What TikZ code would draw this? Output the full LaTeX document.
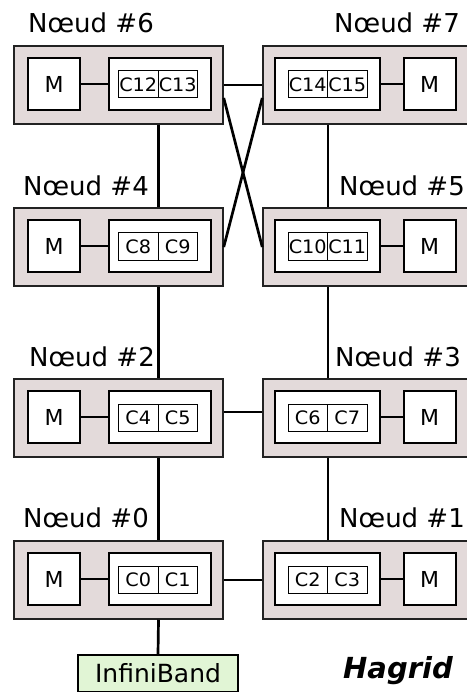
\documentclass[tikz,border=0pt]{standalone}
\usepackage{fontspec}
\setmainfont{DejaVu Sans}
\newfontfamily\chipfont{DejaVu Sans}[FakeStretch=1.04]
\definecolor{boxfill}{RGB}{227,218,218}
\definecolor{ibfill}{RGB}{225,245,213}
\definecolor{boxline}{RGB}{34,34,34}
\tikzset{
  outerbox/.style={draw=boxline,line width=1.5pt,fill=boxfill,inner sep=0pt,minimum height=78pt},
  membox/.style={draw=black,line width=2pt,fill=white,inner sep=0pt,minimum width=52pt,minimum height=52pt,font=\fontsize{22}{22}\selectfont},
  widebox/.style={draw=black,line width=2pt,fill=white,inner sep=0pt,minimum width=104pt,minimum height=52pt},
  chipbox/.style={draw=black,line width=1pt,fill=white,inner sep=0pt,minimum width=39.5pt,minimum height=27pt,font=\chipfont\fontsize{18.5}{18.5}\selectfont},
  link/.style={draw=black,line width=2.7pt},
  nodelabel/.style={anchor=base west,inner sep=0pt,font=\fontsize{26}{26}\selectfont},
  ibbox/.style={draw=black,line width=1.5pt,fill=ibfill,inner sep=0pt,minimum width=160pt,minimum height=37pt,font=\fontsize{25}{25}\selectfont},
}
\newcommand{\leftnuma}[4]{% name, top y, chip A, chip B
  \node[outerbox,minimum width=209pt] (#1) at (118.5,#2+39) {};
  \node[membox] (m#1) at (54,#2+38) {M};
  \node[widebox,minimum width=102pt] (w#1) at (160,#2+38) {};
  \node[chipbox] (a#1) at (138.25,#2+38.5) {#3};
  \node[chipbox] (b#1) at (177.75,#2+38.5) {#4};
  \draw[link] (m#1.east) -- (w#1.west);
}
\newcommand{\rightnuma}[4]{% name, top y, chip A, chip B
  \node[outerbox,minimum width=212pt] (#1) at (369,#2+39) {};
  \node[membox] (m#1) at (429.5,#2+38) {M};
  \node[widebox,minimum width=105pt] (w#1) at (327.5,#2+38) {};
  \node[chipbox] (a#1) at (307.75,#2+38.5) {#3};
  \node[chipbox] (b#1) at (347.25,#2+38.5) {#4};
  \draw[link] (w#1.east) -- (m#1.west);
}
\begin{document}
\begin{tikzpicture}[x=1pt,y=-1pt]
\useasboundingbox (0,0) rectangle (466,692);
\leftnuma{n6}{46}{C12}{C13}
\rightnuma{n7}{46}{C14}{C15}
\leftnuma{n4}{208}{C8}{C9}
\rightnuma{n5}{208}{C10}{C11}
\leftnuma{n2}{379}{C4}{C5}
\rightnuma{n3}{379}{C6}{C7}
\leftnuma{n0}{541}{C0}{C1}
\rightnuma{n1}{541}{C2}{C3}
\node[ibbox] (ib) at (158,673.5) {InfiniBand};
% links
\draw[link] (n6.east) -- (n7.west);
\draw[link] ([yshift=-13pt]n6.east) -- (n5.west);
\draw[link] ([yshift=-13pt]n7.west) -- (n4.east);
\draw[link] (an6.east |- n6.south) -- (an4.east |- n4.north);
\draw[link] (an7.east |- n7.south) -- (an5.east |- n5.north);
\draw[link] (an4.east |- n4.south) -- (an2.east |- n2.north);
\draw[link] (an5.east |- n5.south) -- (an3.east |- n3.north);
\draw[link] ([yshift=6pt]n2.east) -- ([yshift=6pt]n2.east -| n3.west);
\draw[link] (an2.east |- n2.south) -- (an0.east |- n0.north);
\draw[link] (an3.east |- n3.south) -- (an1.east |- n1.north);
\draw[link] (n0.east) -- (n1.west);
\draw[link] (an0.east |- n0.south) -- (ib.north);
% labels
\node[nodelabel] (l6) at (28,33) {Nœud \#6};
\node[nodelabel] (l7) at (334,33) {Nœud \#7};
\node[nodelabel] (l4) at (23,196) {Nœud \#4};
\node[nodelabel] (l5) at (339,196) {Nœud \#5};
\node[nodelabel] (l2) at (29,366) {Nœud \#2};
\node[nodelabel] (l3) at (335,366) {Nœud \#3};
\node[nodelabel] (l0) at (23,527) {Nœud \#0};
\node[nodelabel] (l1) at (339,527) {Nœud \#1};
\node[anchor=base west,inner sep=0pt,font=\fontsize{29}{29}\selectfont\bfseries\itshape] (hagrid) at (343,678) {Hagrid};
\end{tikzpicture}
\end{document}
